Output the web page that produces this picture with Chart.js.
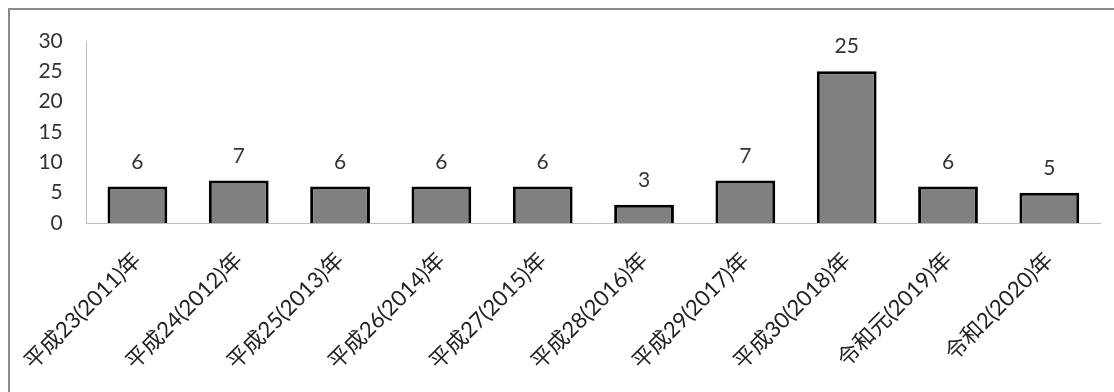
<!DOCTYPE html>
<html>
<head>
<meta charset="utf-8">
<script src="https://cdn.jsdelivr.net/npm/chart.js@4/dist/chart.umd.min.js"></script>
<style>
  html, body { margin: 0; padding: 0; background: #fff; }
  #wrap { position: relative; width: 1114px; height: 392px; overflow: hidden; }
  #frame { position: absolute; left: 8px; top: 8px; width: 1200px; height: 500px;
           border-top: 2px solid #8a8a8a; border-left: 2px solid #8a8a8a; box-sizing: border-box; }
  canvas { position: absolute; left: 0; top: 0; }
</style>
</head>
<body>
<div id="wrap">
  <div id="frame"></div>
  <canvas id="c" width="1114" height="392"></canvas>
</div>
<script>
const categories = ['平成23(2011)年','平成24(2012)年','平成25(2013)年','平成26(2014)年','平成27(2015)年','平成28(2016)年','平成29(2017)年','平成30(2018)年','令和元(2019)年','令和2(2020)年'];
const values = [6, 7, 6, 6, 6, 3, 7, 25, 6, 5];
const yTicks = [0, 5, 10, 15, 20, 25, 30];

const FONT = "Lato, 'Noto Sans CJK JP', sans-serif";

const valueLabels = {
  id: 'valueLabels',
  afterDatasetsDraw(chart) {
    const ctx = chart.ctx;
    const meta = chart.getDatasetMeta(0);
    ctx.save();
    ctx.font = "21px " + FONT;
    ctx.fillStyle = '#333333';
    ctx.textAlign = 'center';
    ctx.textBaseline = 'alphabetic';
    meta.data.forEach((bar, i) => {
      ctx.fillText(String(chart.data.datasets[0].data[i]), bar.x, bar.y - 18);
    });
    ctx.restore();
  }
};

new Chart(document.getElementById('c'), {
  type: 'bar',
  data: {
    labels: categories,
    datasets: [{
      data: values,
      backgroundColor: '#808080',
      borderColor: '#000000',
      borderWidth: 3,
      categoryPercentage: 1.0,
      barPercentage: 0.59
    }]
  },
  options: {
    responsive: false,
    animation: false,
    devicePixelRatio: 1,
    layout: { padding: { left: 0, top: 41, right: 14, bottom: 0 } },
    plugins: { legend: { display: false }, tooltip: { enabled: false } },
    scales: {
      x: {
        grid: { display: false, drawTicks: false },
        border: { display: true, color: '#bdbdbd', width: 1 },
        ticks: {
          autoSkip: false,
          maxRotation: 45,
          minRotation: 45,
          padding: 24,
          color: '#222222',
          font: { size: 22, family: FONT }
        },
        afterFit(scale) { scale.height = 392 - 223; }
      },
      y: {
        min: 0,
        max: 30,
        afterBuildTicks(scale) { scale.ticks = yTicks.map(v => ({ value: v })); },
        grid: { display: false, drawTicks: false },
        border: { display: true, color: '#bdbdbd', width: 1 },
        ticks: {
          padding: 24,
          color: '#333333',
          font: { size: 21, family: FONT }
        },
        afterFit(scale) { scale.width = 86; }
      }
    }
  },
  plugins: [valueLabels]
});
</script>
</body>
</html>
